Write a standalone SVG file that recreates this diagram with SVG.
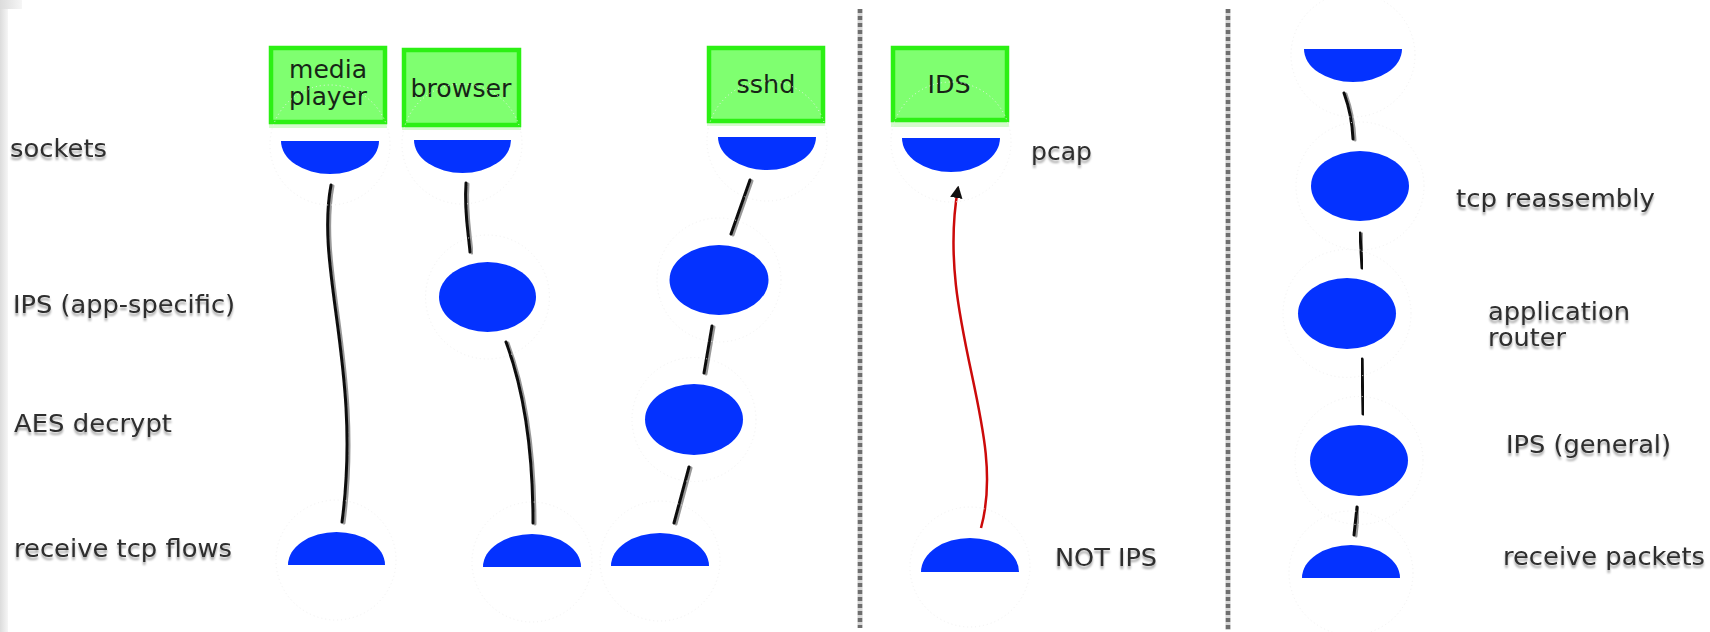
<svg xmlns="http://www.w3.org/2000/svg" width="1710" height="632" viewBox="0 0 1710 632">
  <defs>
    <style>
      .lbl { font-family: "DejaVu Sans", "Liberation Sans", sans-serif; font-size: 24px; fill: #2e2e2e; filter: url(#ghost); }
      .box { fill: #7fff70; stroke: #2cf014; stroke-width: 4.5; }
      .boxshade { fill: #d4fbcc; }
      .boxtxt { font-family: "DejaVu Sans", "Liberation Sans", sans-serif; font-size: 24px; fill: #172417; text-anchor: middle; }
      .blob { fill: #0432ff; }
      .halo { fill: none; stroke: #f1f1f1; stroke-width: 1; stroke-dasharray: 1 3; }
      .link { fill: none; stroke: #111; stroke-width: 3; stroke-linecap: round; filter: url(#hatch); }
      .flow { fill: none; stroke: #cc0a0a; stroke-width: 2.5; }
      .rail { stroke: #d6d6d6; stroke-width: 5; }
      .divider { stroke: #6e6e6e; stroke-width: 4.5; stroke-dasharray: 4 3; }
    </style>
    <filter id="ghost" x="-5%" y="-30%" width="110%" height="170%">
      <feGaussianBlur in="SourceAlpha" stdDeviation="1" result="b"/>
      <feOffset in="b" dy="3" result="o"/>
      <feFlood flood-color="#000" flood-opacity="0.35"/>
      <feComposite in2="o" operator="in" result="s"/>
      <feMerge><feMergeNode in="s"/><feMergeNode in="SourceGraphic"/></feMerge>
    </filter>
    <filter id="hatch" x="-50%" y="-10%" width="200%" height="120%">
      <feOffset in="SourceAlpha" dx="2" dy="1" result="o"/>
      <feFlood flood-color="#000" flood-opacity="0.4"/>
      <feComposite in2="o" operator="in" result="s"/>
      <feMerge><feMergeNode in="s"/><feMergeNode in="SourceGraphic"/></feMerge>
    </filter>
    <filter id="soft" x="-50%" y="0%" width="200%" height="100%">
      <feGaussianBlur stdDeviation="0.6"/>
    </filter>
    <linearGradient id="edge" x1="0" y1="0" x2="1" y2="0">
      <stop offset="0" stop-color="#dcdcdc"/>
      <stop offset="1" stop-color="#f6f6f6"/>
    </linearGradient>
    <marker id="tip" viewBox="0 0 10 10" refX="8" refY="5" markerWidth="5" markerHeight="5" orient="auto" markerUnits="strokeWidth">
      <path d="M0,0 L10,5 L0,10 Z" fill="#111"/>
    </marker>
  </defs>

  <rect width="1710" height="632" fill="#fff"/>
  <!-- left page edge -->
  <rect x="0" y="0" width="8" height="632" fill="url(#edge)"/>
  <rect x="0" y="0" width="22" height="9" fill="url(#edge)"/>

  <!-- column dividers -->
  <g filter="url(#soft)">
    <line class="rail" x1="860" y1="9" x2="860" y2="628"/>
    <line class="divider" x1="860" y1="9" x2="860" y2="628"/>
    <line class="rail" x1="1228" y1="9" x2="1228" y2="630"/>
    <line class="divider" x1="1228" y1="9" x2="1228" y2="630"/>
  </g>

  <!-- layer labels -->
  <g id="labels">
    <text class="lbl" x="10" y="157" textLength="97" lengthAdjust="spacingAndGlyphs">sockets</text>
    <text class="lbl" x="13" y="313" textLength="222" lengthAdjust="spacingAndGlyphs">IPS (app-specific)</text>
    <text class="lbl" x="14" y="432" textLength="158" lengthAdjust="spacingAndGlyphs">AES decrypt</text>
    <text class="lbl" x="14" y="557" textLength="218" lengthAdjust="spacingAndGlyphs">receive tcp flows</text>
    <text class="lbl" x="1031" y="160" textLength="61" lengthAdjust="spacingAndGlyphs">pcap</text>
    <text class="lbl" x="1055" y="566" textLength="102" lengthAdjust="spacingAndGlyphs">NOT IPS</text>
    <text class="lbl" x="1456" y="207" textLength="199" lengthAdjust="spacingAndGlyphs">tcp reassembly</text>
    <text class="lbl" x="1488" y="320" textLength="142" lengthAdjust="spacingAndGlyphs">application</text>
    <text class="lbl" x="1488" y="346" textLength="78" lengthAdjust="spacingAndGlyphs">router</text>
    <text class="lbl" x="1506" y="453" textLength="165" lengthAdjust="spacingAndGlyphs">IPS (general)</text>
    <text class="lbl" x="1503" y="565" textLength="202" lengthAdjust="spacingAndGlyphs">receive packets</text>
  </g>

  <!-- connectors -->
  <g id="connectors">
    <path class="link" d="M331,185 C315,270 362,370 342,522"/>
    <path class="link" d="M466,183 C464,210 468,230 470,252"/>
    <path class="link" d="M506,342 C522,385 533,440 533,523"/>
    <path class="link" d="M750,180 L731,234"/>
    <path class="link" d="M712,326 L704,373"/>
    <path class="link" d="M689,467 L674,523"/>
    <path class="flow" d="M981,528 C1008,430 935,320 958,188" marker-end="url(#tip)"/>
    <path class="link" d="M1344,93 Q1352,115 1353,139"/>
    <path class="link" d="M1360,233 L1362,268"/>
    <path class="link" d="M1362,359 L1363,414"/>
    <path class="link" d="M1357,507 L1354,535"/>
  </g>

  <!-- applications -->
  <g id="app-media-player">
    <rect class="boxshade" x="269" y="122" width="118" height="6"/>
    <rect class="box" x="271" y="48" width="114" height="74"/>
    <text class="boxtxt" x="328" y="78" textLength="78" lengthAdjust="spacingAndGlyphs">media</text>
    <text class="boxtxt" x="328" y="105" textLength="78" lengthAdjust="spacingAndGlyphs">player</text>
  </g>
  <g id="app-browser">
    <rect class="boxshade" x="402" y="125" width="119" height="5"/>
    <rect class="box" x="404" y="50" width="115" height="75"/>
    <text class="boxtxt" x="461" y="97" textLength="101" lengthAdjust="spacingAndGlyphs">browser</text>
  </g>
  <g id="app-sshd">
    <rect class="boxshade" x="707" y="121" width="118" height="5"/>
    <rect class="box" x="709" y="48" width="114" height="73"/>
    <text class="boxtxt" x="766" y="93" textLength="59" lengthAdjust="spacingAndGlyphs">sshd</text>
  </g>
  <g id="app-ids">
    <rect class="boxshade" x="891" y="120" width="118" height="7"/>
    <rect class="box" x="893" y="48" width="114" height="72"/>
    <text class="boxtxt" x="949" y="93" textLength="43" lengthAdjust="spacingAndGlyphs">IDS</text>
  </g>

  <!-- media player stack -->
  <g id="mp-socket">
    <circle class="halo" cx="330" cy="145" r="60"/>
    <path class="blob" d="M281,141 A49,33 0 0 0 379,141 Z"/>
  </g>
  <g id="mp-recv">
    <circle class="halo" cx="336" cy="560" r="60"/>
    <path class="blob" d="M288,565 A48.5,33 0 0 1 385,565 Z"/>
  </g>

  <!-- browser stack -->
  <g id="br-socket">
    <circle class="halo" cx="462" cy="144" r="60"/>
    <path class="blob" d="M414,140 A48.5,33 0 0 0 511,140 Z"/>
  </g>
  <g id="br-ips">
    <circle class="halo" cx="487.5" cy="297" r="62"/>
    <ellipse class="blob" cx="487.5" cy="297" rx="48.5" ry="35"/>
  </g>
  <g id="br-recv">
    <circle class="halo" cx="532" cy="562" r="60"/>
    <path class="blob" d="M483,567 A49,33 0 0 1 581,567 Z"/>
  </g>

  <!-- sshd stack -->
  <g id="ssh-socket">
    <circle class="halo" cx="767" cy="141" r="60"/>
    <path class="blob" d="M718,137 A49,33 0 0 0 816,137 Z"/>
  </g>
  <g id="ssh-ips">
    <circle class="halo" cx="719" cy="280" r="62"/>
    <ellipse class="blob" cx="719" cy="280" rx="49.5" ry="35"/>
  </g>
  <g id="ssh-aes">
    <circle class="halo" cx="694" cy="419.5" r="62"/>
    <ellipse class="blob" cx="694" cy="419.5" rx="49" ry="35.5"/>
  </g>
  <g id="ssh-recv">
    <circle class="halo" cx="660" cy="561" r="60"/>
    <path class="blob" d="M611,566 A49,33 0 0 1 709,566 Z"/>
  </g>

  <!-- IDS stack -->
  <g id="ids-pcap">
    <circle class="halo" cx="951" cy="142" r="60"/>
    <path class="blob" d="M902,138 A49,34 0 0 0 1000,138 Z"/>
  </g>
  <g id="ids-recv">
    <circle class="halo" cx="970" cy="567" r="60"/>
    <path class="blob" d="M921,572 A49,34 0 0 1 1019,572 Z"/>
  </g>

  <!-- shared network stack -->
  <g id="net-top">
    <circle class="halo" cx="1353" cy="55" r="62"/>
    <path class="blob" d="M1304,49 A49,33 0 0 0 1402,49 Z"/>
  </g>
  <g id="net-tcp-reassembly">
    <circle class="halo" cx="1360" cy="186" r="64"/>
    <ellipse class="blob" cx="1360" cy="186" rx="49" ry="35"/>
  </g>
  <g id="net-app-router">
    <circle class="halo" cx="1347" cy="313.5" r="64"/>
    <ellipse class="blob" cx="1347" cy="313.5" rx="49" ry="35.5"/>
  </g>
  <g id="net-ips-general">
    <circle class="halo" cx="1359" cy="460.5" r="64"/>
    <ellipse class="blob" cx="1359" cy="460.5" rx="49" ry="35.5"/>
  </g>
  <g id="net-recv">
    <circle class="halo" cx="1351" cy="573" r="62"/>
    <path class="blob" d="M1302,578 A49,33 0 0 1 1400,578 Z"/>
  </g>
</svg>
